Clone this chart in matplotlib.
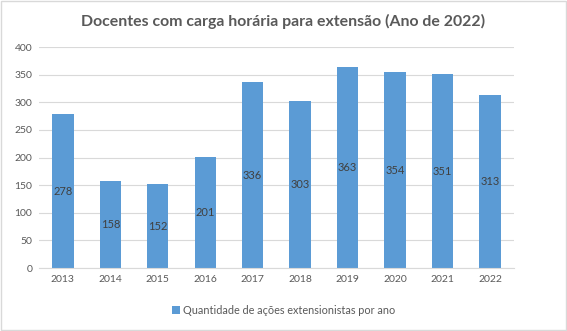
import matplotlib
matplotlib.use("Agg")
import matplotlib.pyplot as plt
from matplotlib.patches import Rectangle

years = ["2013", "2014", "2015", "2016", "2017", "2018", "2019", "2020", "2021", "2022"]
quantidade = [278, 158, 152, 201, 336, 303, 363, 354, 351, 313]
yticks = [0, 50, 100, 150, 200, 250, 300, 350, 400]

titulo = "Docentes com carga horária para extensão (Ano de 2022)"
legenda = "Quantidade de ações extensionistas por ano"

plt.rcParams["font.family"] = ["Lato", "DejaVu Sans"]
text_color = "#595959"
bar_color = "#5B9BD5"

fig = plt.figure(figsize=(5.67, 3.31), dpi=100)
ax = fig.add_axes([0.069, 0.190, 0.837, 0.668])

x = range(len(years))
bars = ax.bar(x, quantidade, width=0.45, color=bar_color, label=legenda, zorder=2)
for rect, v in zip(bars, quantidade):
    ax.text(rect.get_x() + rect.get_width() / 2, v / 2, str(v),
            ha="center", va="center", fontsize=8, color="#404040", zorder=3)

ax.set_xlim(-0.5, len(years) - 0.5)
ax.set_ylim(0, 400)
ax.set_yticks(yticks)
ax.set_xticks(list(x))
ax.set_xticklabels(years)
ax.tick_params(axis="both", length=0, labelsize=7.5, labelcolor=text_color, pad=5)
ax.yaxis.grid(True, color="#D9D9D9", linewidth=0.8, zorder=0)
for side in ["top", "right", "left"]:
    ax.spines[side].set_visible(False)
ax.spines["bottom"].set_color("#D9D9D9")

fig.suptitle(titulo, x=0.5, y=0.958, fontsize=11.4, fontweight="bold", color=text_color)

fig.legend(loc="center", bbox_to_anchor=(0.5, 0.063), frameon=False, fontsize=7.8,
           labelcolor=text_color, handlelength=0.7, handleheight=0.7, handletextpad=0.3)

# light frame around the chart area
fig.patches.append(Rectangle((0.002, 0.003), 0.996, 0.994, transform=fig.transFigure,
                             fill=False, edgecolor="#D9D9D9", linewidth=1))

fig.savefig("out.png", dpi=100)
